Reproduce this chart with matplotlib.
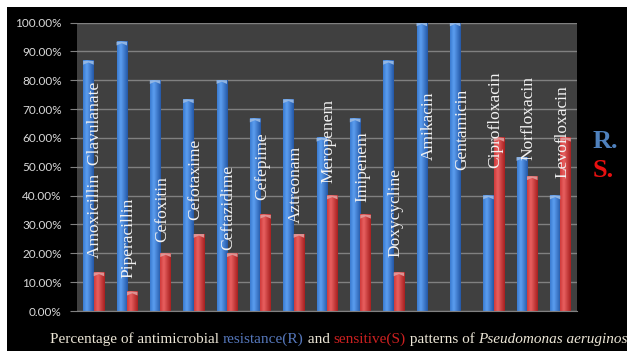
import numpy as np
import matplotlib
matplotlib.use("Agg")
import matplotlib.pyplot as plt
from matplotlib.patches import Rectangle, Polygon
from matplotlib import transforms
from matplotlib.colors import to_rgb

# --- data -------------------------------------------------------------
drugs = ["Amoxicillin  Clavulanate", "Piperacillin", "Cefoxitin", "Cefotaxime",
         "Ceftazidime", "Cefepime", "Aztreonam", "Meropenem", "Imipenem",
         "Doxycycline", "Amikacin", "Gentamicin", "Ciprofloxacin",
         "Norfloxacin", "Levofloxacin"]
resistance = [86.67, 93.33, 80.00, 73.33, 80.00, 66.67, 73.33, 60.00, 66.67,
              86.67, 100.00, 100.00, 40.00, 53.33, 40.00]
sensitive = [13.33, 6.67, 20.00, 26.67, 20.00, 33.33, 26.67, 40.00, 33.33,
             13.33, 0.00, 0.00, 60.00, 46.67, 60.00]
yticks = list(range(0, 101, 10))

# where each drug name starts (in % units of the y axis)
label_base = [18.3, 11.4, 23.9, 31.5, 21.1, 38.4, 30.4, 44.3, 37.7,
              18.7, 52.2, 48.8, 49.5, 52.2, 46.0]

W, H, DPI = 627, 351, 100
fig = plt.figure(figsize=(W / DPI, H / DPI), dpi=DPI, facecolor="white")

# black slide background with a thin white margin on the top and left
fig.patches.append(Rectangle((7 / W, 0), 1 - 7 / W, 1 - 7 / H,
                             transform=fig.transFigure, facecolor="black",
                             edgecolor="none", zorder=-10))

ax = fig.add_axes([77 / W, 1 - 311 / H, 500 / W, (311 - 22.5) / H])
ax.set_facecolor("#404040")

n = len(drugs)
x = np.arange(n)
bw = 0.315


def shaded_bar(ax, x0, h, base, dark, light):
    """Bar with a horizontal cylinder-like shading and a bevelled top."""
    if h <= 0:
        return
    b = np.array(to_rgb(base))
    d = np.array(to_rgb(dark))
    l = np.array(to_rgb(light))
    t = np.linspace(0, 1, 40)
    prof = np.empty((40, 3))
    for i, v in enumerate(t):
        if v < 0.35:
            f = v / 0.35
            prof[i] = b * (1 - f) + l * f
        else:
            f = (v - 0.35) / 0.65
            prof[i] = l * (1 - f) + d * f
    img = prof[np.newaxis, :, :]
    ax.imshow(img, extent=[x0, x0 + bw, 0, h], aspect="auto",
              interpolation="bilinear", zorder=2)
    cap = 1.3
    top = Polygon([[x0, h], [x0 + bw, h], [x0 + bw, h - cap],
                   [x0 + bw / 2, h - cap * 0.4], [x0, h - cap]],
                  closed=True, facecolor=l * 0.5 + np.ones(3) * 0.5 * 0.85,
                  edgecolor="none", zorder=3, alpha=0.9)
    ax.add_patch(top)


for i in range(n):
    shaded_bar(ax, x[i] - bw, resistance[i], "#3a7bd0", "#2458a6", "#5c9ef0")
    shaded_bar(ax, x[i], sensitive[i], "#d03a3a", "#a82020", "#e86060")

for i in range(n):
    ax.text(x[i] + 0.05, label_base[i], drugs[i], rotation=90,
            ha="center", va="bottom", color="#f2f2f2",
            family="Liberation Serif", fontsize=12.5, zorder=5)

ax.set_xlim(-0.5, n - 0.5)
ax.set_ylim(0, 100)
ax.set_yticks(yticks)
ax.set_yticklabels([f"{v:.2f}%" for v in yticks], family="Lato",
                   fontsize=8.5, color="#d9d9d9")
ax.set_xticks([])
ax.yaxis.grid(True, color="#808080", linewidth=1.0, zorder=1)
ax.set_axisbelow(True)
ax.tick_params(axis="y", length=5, color="#808080", pad=6)
for s in ["top", "right", "left"]:
    ax.spines[s].set_visible(False)
ax.spines["bottom"].set_color("#808080")

# series key at the right
fig.text(593 / W, 1 - 148 / H, "R.", color="#4f81bd", family="Liberation Serif",
         fontweight="bold", fontsize=19, va="baseline")
fig.text(593 / W, 1 - 177 / H, "S.", color="#e81010", family="Liberation Serif",
         fontweight="bold", fontsize=19, va="baseline")

# multi-coloured caption
parts = [("Percentage of antimicrobial ", "#ece6d6", "normal"),
         ("resistance(R)", "#5577bb", "normal"),
         (" and ", "#ece6d6", "normal"),
         ("sensitive(S)", "#cc2020", "normal"),
         (" patterns of ", "#ece6d6", "normal"),
         ("Pseudomonas aeruginosa", "#ece6d6", "italic")]
renderer = fig.canvas.get_renderer()
trans = fig.transFigure
for s, c, st in parts:
    t = fig.text(50 / W, 1 - 343 / H, s, color=c, style=st,
                 family="Liberation Serif", fontsize=11, va="baseline",
                 transform=trans)
    t.draw(renderer)
    ex = t.get_window_extent(renderer)
    trans = transforms.offset_copy(t.get_transform(), fig=fig, x=ex.width,
                                   units="dots")

fig.savefig("out.png", dpi=DPI, facecolor=fig.get_facecolor())
